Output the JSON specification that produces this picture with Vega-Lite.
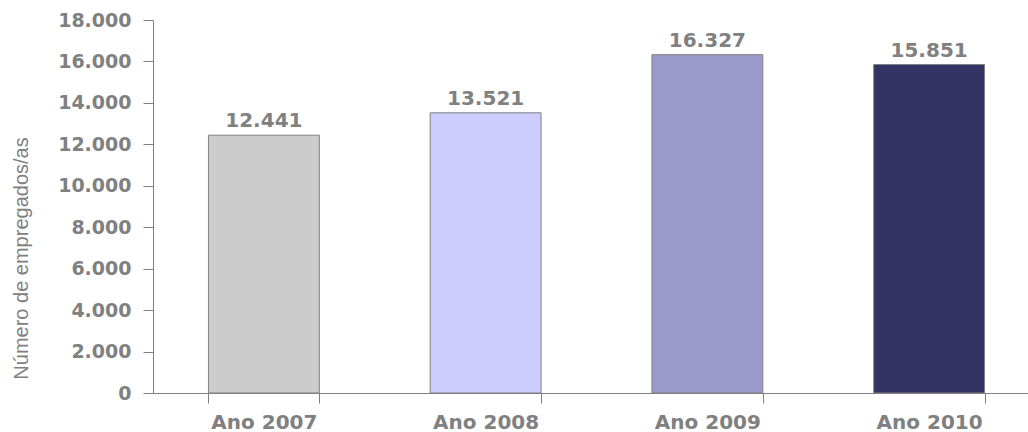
{
  "$schema": "https://vega.github.io/schema/vega-lite/v6.json",
  "width": 875,
  "height": 373,
  "autosize": "none",
  "padding": {"left": 153, "top": 20, "right": 0, "bottom": 39},
  "background": "white",
  "config": {
    "view": {"stroke": null},
    "locale": {"number": {"decimal": ",", "thousands": ".", "grouping": [3], "currency": ["", " €"]}}
  },
  "data": {
    "values": [
      {"ano": "Ano 2007", "empregados": 12441},
      {"ano": "Ano 2008", "empregados": 13521},
      {"ano": "Ano 2009", "empregados": 16327},
      {"ano": "Ano 2010", "empregados": 15851}
    ]
  },
  "encoding": {
    "x": {
      "field": "ano", "type": "nominal", "sort": null,
      "scale": {"range": [0, 887], "paddingInner": 0.5, "paddingOuter": 0.25},
      "axis": {
        "title": null, "labelAngle": 0, "domainColor": "#808080", "tickColor": "#808080",
        "tickBand": "extent", "tickSize": 10, "labelFont": "DejaVu Sans", "labelFontWeight": "bold",
        "labelFontSize": 20, "labelColor": "#808080", "labelBaseline": "alphabetic", "labelPadding": 25,
        "grid": false
      }
    },
    "y": {
      "field": "empregados", "type": "quantitative",
      "scale": {"domain": [0, 18000], "nice": false},
      "axis": {
        "title": "Número de empregados/as", "titleFont": "Liberation Sans", "titleFontWeight": "normal",
        "titleFontSize": 20, "titleColor": "#808080", "titleAngle": -90, "titleAlign": "center",
        "titleBaseline": "middle", "titleX": -132, "titleY": 238,
        "values": [0, 2000, 4000, 6000, 8000, 10000, 12000, 14000, 16000, 18000],
        "format": ",d", "grid": false, "domainColor": "#808080", "tickColor": "#808080", "tickSize": 10,
        "labelFont": "DejaVu Sans", "labelFontWeight": "bold", "labelFontSize": 19, "labelColor": "#808080",
        "labelPadding": 12
      }
    }
  },
  "layer": [
    {
      "mark": {"type": "bar", "stroke": "#808080", "strokeWidth": 1},
      "encoding": {
        "color": {
          "field": "ano", "type": "nominal", "legend": null,
          "scale": {"domain": ["Ano 2007", "Ano 2008", "Ano 2009", "Ano 2010"], "range": ["#CCCCCC", "#CCCCFF", "#9999CC", "#333366"]}
        }
      }
    },
    {
      "mark": {"type": "text", "baseline": "alphabetic", "dy": -8, "font": "DejaVu Sans", "fontWeight": "bold", "fontSize": 20, "color": "#808080"},
      "encoding": {"text": {"field": "empregados", "type": "quantitative", "format": ",d"}}
    }
  ]
}
